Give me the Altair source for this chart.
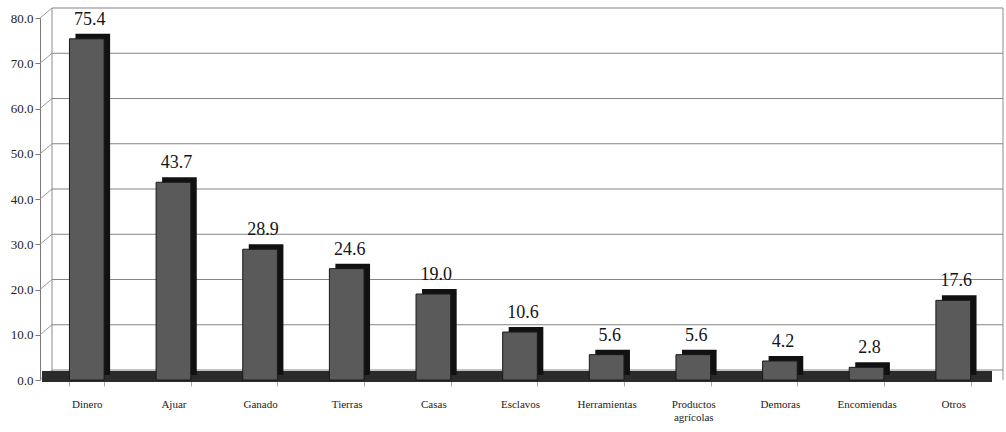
import altair as alt
import pandas as pd

# Share of dowries (%) that include each kind of good
categories = ["Dinero", "Ajuar", "Ganado", "Tierras", "Casas", "Esclavos",
              "Herramientas", "Productos\nagrícolas", "Demoras", "Encomiendas", "Otros"]
values = [75.4, 43.7, 28.9, 24.6, 19.0, 10.6, 5.6, 5.6, 4.2, 2.8, 17.6]
y_ticks = [0, 10, 20, 30, 40, 50, 60, 70, 80]

bars = pd.DataFrame({"categoria": categories, "valor": values})
grid = pd.DataFrame({"valor": y_ticks})

SERIF = "Liberation Serif"
DEPTH_X, DEPTH_Y = 12, -10      # pixel depth of the pseudo-3D walls
BAR_DX, BAR_DY = 6, -5          # pixel depth of each bar

x_scale = alt.Scale(domain=categories, paddingInner=0.6, paddingOuter=0.34)
y_scale = alt.Scale(domain=[0, 80], nice=False, zero=True)

y_axis = alt.Axis(
    title=None, values=y_ticks, format=".1f", grid=False,
    domainColor="#7a7a7a", tickColor="#7a7a7a", tickSize=5,
    labelFont=SERIF, labelFontSize=13, labelColor="#222", labelPadding=2,
)
x_axis = alt.Axis(
    title=None, labelAngle=0, domain=False, ticks=True, tickBand="extent",
    tickColor="#aaa", tickSize=6, labelPadding=12,
    labelFont=SERIF, labelFontSize=11, labelColor="#222", labelLineHeight=13,
    labelExpr="split(datum.label, '\\n')",
)

base_grid = alt.Chart(grid)

# back-wall gridlines
back_lines = base_grid.mark_rule(color="#858585", strokeWidth=1, yOffset=DEPTH_Y).encode(
    x=alt.value(DEPTH_X), x2=alt.value(963),
    y=alt.Y("valor:Q", scale=y_scale, axis=y_axis),
)

# gridlines running across the left side wall
side_lines = base_grid.mark_rule(color="#9a9a9a", strokeWidth=1, y2Offset=DEPTH_Y).encode(
    x=alt.value(0), x2=alt.value(DEPTH_X),
    y=alt.Y("valor:Q", scale=y_scale, axis=y_axis),
    y2=alt.Y2("valor:Q"),
)

# wall corners
corners = alt.Chart(pd.DataFrame({"xpix": [DEPTH_X, 963]})).mark_rule(
    color="#8c8c8c", strokeWidth=1, yOffset=DEPTH_Y
).encode(
    x=alt.X("xpix:Q", scale=None),
    y=alt.datum(80), y2=alt.datum(0),
)

# floor slab
floor = alt.Chart(pd.DataFrame({"valor": [0]})).mark_rect(
    color="#2b2b2b", yOffset=2, y2Offset=-9
).encode(
    x=alt.value(2), x2=alt.value(952),
    y=alt.Y("valor:Q", scale=y_scale, axis=y_axis),
    y2=alt.Y2("valor:Q"),
)

base_bars = alt.Chart(bars)
x_enc = alt.X("categoria:N", scale=x_scale, sort=None, axis=x_axis)
y_enc = alt.Y("valor:Q", scale=y_scale, axis=y_axis)

# dark top and side faces
bar_depth = base_bars.mark_bar(color="#111111", xOffset=BAR_DX, yOffset=BAR_DY).encode(
    x=x_enc, y=y_enc,
)
# front faces
bar_front = base_bars.mark_bar(color="#5a5a5a", stroke="#1a1a1a", strokeWidth=1).encode(
    x=x_enc, y=y_enc,
)
# value labels
labels = base_bars.mark_text(
    font=SERIF, fontSize=18, color="#151515", baseline="alphabetic", dy=-14, dx=3,
).encode(
    x=x_enc, y=y_enc,
    text=alt.Text("valor:Q", format=".1f"),
)

chart = alt.layer(
    back_lines, side_lines, corners, floor, bar_depth, bar_front, labels
).properties(
    width=960, height=362,
    autosize=alt.AutoSizeParams(type="none"),
    padding={"left": 40, "top": 18, "right": 6, "bottom": 52},
    background="white",
).configure_view(stroke=None)

chart.save("out.html", embed_options={"renderer": "svg", "actions": False})
